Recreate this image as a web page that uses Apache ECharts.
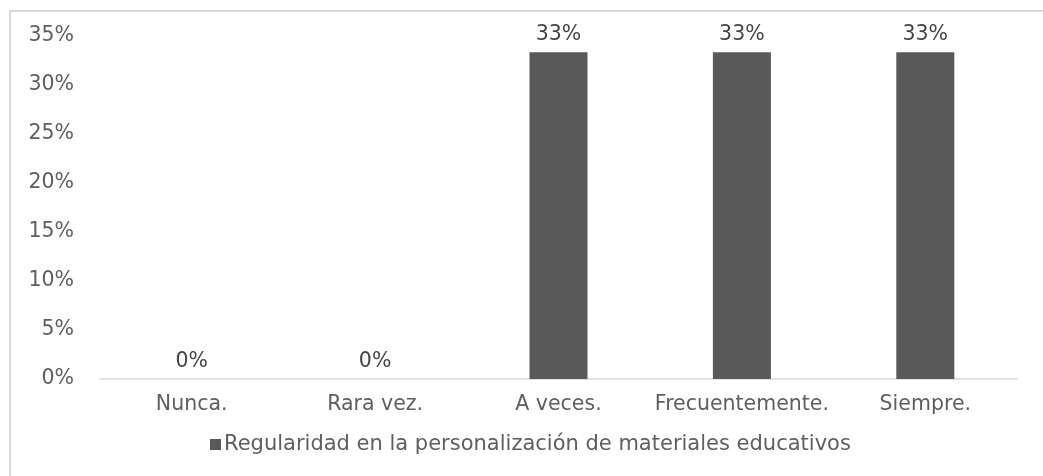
<!DOCTYPE html>
<html>
<head>
<meta charset="utf-8">
<script src="https://cdn.jsdelivr.net/npm/echarts@6/dist/echarts.min.js"></script>
<style>
  html, body { margin: 0; padding: 0; background: #fff; }
  #chart { width: 1043px; height: 476px; }
</style>
</head>
<body>
<div id="chart"></div>
<script>
var categories = ['Nunca.', 'Rara vez.', 'A veces.', 'Frecuentemente.', 'Siempre.'];
var values = [0, 0, 33.33, 33.33, 33.33];
var seriesName = 'Regularidad en la personalización de materiales educativos';

var chart = echarts.init(document.getElementById('chart'));
chart.setOption({
  animation: false,
  textStyle: { fontFamily: 'DejaVu Sans, sans-serif' },
  graphic: [{
    type: 'rect',
    shape: { x: 10, y: 11, width: 1100, height: 500 },
    style: { fill: 'none', stroke: '#d9d9d9', lineWidth: 2 },
    silent: true
  }],
  grid: { left: 100, right: 26, top: 36, bottom: 97 },
  legend: {
    left: 205,
    top: 429,
    itemWidth: 11,
    itemHeight: 11,
    itemGap: 4,
    icon: 'rect',
    textStyle: { color: '#5f5f5f', fontSize: 21, padding: [0, 0, 0, -2] },
    data: [seriesName]
  },
  xAxis: {
    type: 'category',
    data: categories,
    axisLine: { lineStyle: { color: '#d9d9d9', width: 1.5 } },
    axisTick: { show: false },
    axisLabel: { color: '#5f5f5f', fontSize: 20.5, margin: 15, interval: 0 }
  },
  yAxis: {
    type: 'value',
    min: 0,
    max: 35,
    interval: 5,
    axisLine: { show: false },
    axisTick: { show: false },
    splitLine: { show: false },
    axisLabel: {
      color: '#5f5f5f',
      fontSize: 20.5,
      margin: 26,
      formatter: function (v) { return v + '%'; }
    }
  },
  series: [{
    name: seriesName,
    type: 'bar',
    data: values,
    barWidth: 58,
    itemStyle: { color: '#595959' },
    label: {
      show: true,
      position: 'top',
      distance: 7,
      color: '#454545',
      fontSize: 20.5,
      formatter: function (p) { return Math.round(p.value) + '%'; }
    }
  }]
});
</script>
</body>
</html>
